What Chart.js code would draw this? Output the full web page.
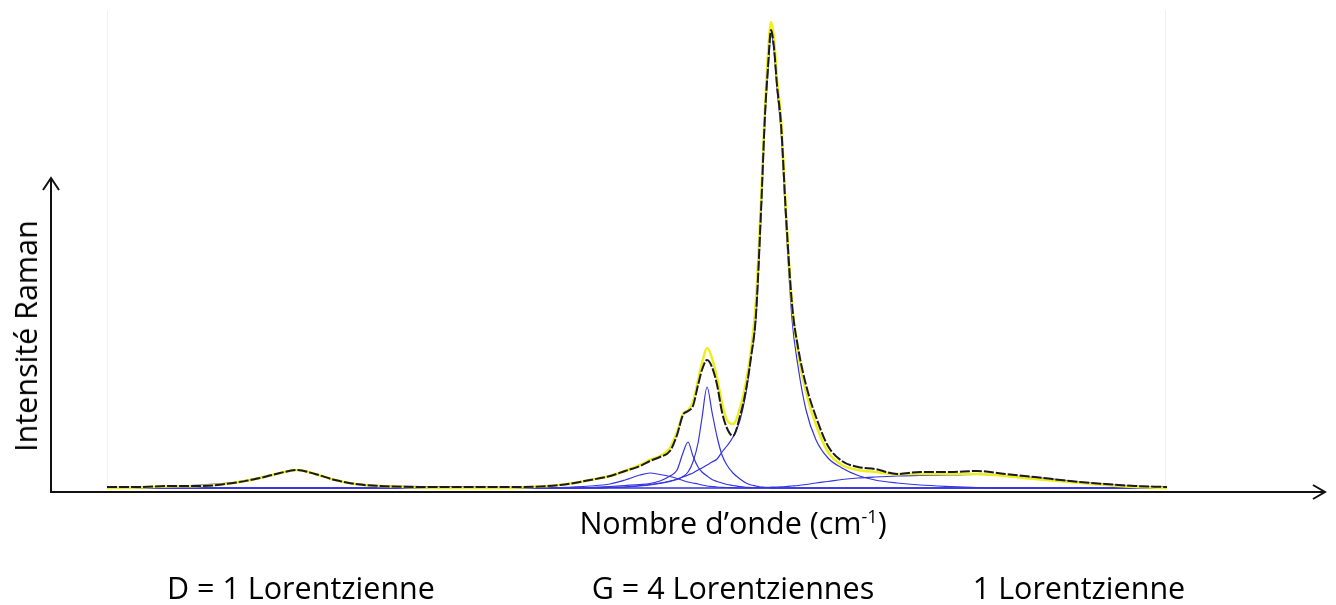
<!DOCTYPE html>
<html>
<head>
<meta charset="utf-8">
<script src="https://cdn.jsdelivr.net/npm/chart.js@4/dist/chart.umd.min.js"></script>
<style>
  html, body { margin: 0; padding: 0; background: #fff; }
  #wrap { position: relative; width: 1336px; height: 605px; overflow: hidden; }
  #chart { position: absolute; left: 0; top: 0; }
  .lbl { position: absolute; white-space: nowrap; font-family: "Open Sans", Lato, sans-serif; font-size: 30.5px; color: #000; transform: translate(-50%, -50%); }
  .lbl sup { font-size: 18px; vertical-align: 11px; line-height: 0; }
  #ylabel { transform: translate(-50%, -50%) rotate(-90deg); }
</style>
</head>
<body>
<div id="wrap">
  <canvas id="chart" width="1336" height="605"></canvas>
  <div class="lbl" id="ylabel" style="left:25px; top:336px;">Intensité Raman</div>
  <div class="lbl" style="left:733px; top:522px;">Nombre d’onde (cm<sup>-1</sup>)</div>
  <div class="lbl" style="left:301px; top:587px;">D = 1 Lorentzienne</div>
  <div class="lbl" style="left:733px; top:587px;">G = 4 Lorentziennes</div>
  <div class="lbl" style="left:1079px; top:587px;">1 Lorentzienne</div>
</div>
<script>
// wavenumber grid (cm-1), denser around the G band
var wavenumbers = [1250.0, 1266.8, 1280.6, 1297.4, 1314.2, 1327.9, 1338.1, 1346.8, 1356.0, 1366.2,
  1376.3, 1389.1, 1409.5, 1434.9, 1460.4, 1480.8, 1496.1, 1506.2, 1513.9, 1521.5,
  1526.6, 1531.7, 1536.8, 1540.4, 1543.4, 1546.0, 1548.5, 1551.1, 1553.1, 1555.7,
  1558.2, 1560.8, 1563.3, 1565.8, 1568.9, 1572.5, 1575.5, 1578.1, 1580.6, 1583.2,
  1585.2, 1586.7, 1588.3, 1589.8, 1591.3, 1593.4, 1595.9, 1599.0, 1602.0, 1606.1,
  1611.2, 1617.3, 1624.4, 1632.6, 1641.2, 1652.5, 1664.2, 1679.4, 1693.2, 1707.5,
  1722.7, 1740.6, 1758.4, 1773.7, 1790.0];

// measured spectrum (black)
var measured = [3, 3, 4, 4, 7, 12, 17, 20, 16, 10,
  6, 4, 3, 3, 3, 5, 10, 14, 19, 24,
  29, 33, 39, 55, 75, 79, 84, 105, 120, 130,
  123, 105, 78, 62, 54, 74, 100, 133, 175, 280,
  375, 422, 460, 442, 405, 365, 275, 185, 143, 105,
  73, 44, 29, 23, 21, 16, 18, 18, 19, 16,
  13, 9, 6, 4, 3];

// sum of the fitted Lorentzians (yellow)
var fitSum = [2, 2.5, 3.5, 4, 7, 12, 17, 20, 16, 10,
  6, 4, 2.5, 2, 2.5, 5, 10, 14, 19, 25,
  30, 34, 42, 58, 76, 80, 88, 110, 127, 142,
  132, 112, 87, 70, 66, 82, 108, 140, 190, 290,
  382, 435, 468, 452, 412, 370, 278, 185, 138, 98,
  65, 38, 25, 20, 18, 16, 16, 16, 16, 14,
  11, 8, 5, 3, 2];

// individual Lorentzian components (blue)
var peakD = [2.5, 3, 3.5, 5, 7.5, 12.5, 17, 20, 16, 10,
  6.5, 4.5, 3.5, 3, 2.5, 2, 2, 2, 2, 2,
  2, 2, 2, 2, 2, 2, 2, 2, 2, 2,
  2, 2, 2, 2, 2, 2, 2, 2, 2, 2,
  2, 2, 2, 2, 2, 2, 2, 2, 2, 2,
  2, 2, 2, 2, 2, 2, 2, 2, 2, 2,
  2, 2, 2, 2, 2];

var peakG1 = [2, 2, 2, 2, 2, 2, 2, 2, 2, 2,
  2, 2, 2, 2, 2, 2.5, 4, 6, 10, 15,
  17, 15.5, 13.5, 11.5, 9.5, 8, 7, 6, 5, 4,
  3.5, 3, 2.7, 2.5, 2.3, 2, 2, 2, 2, 2,
  2, 2, 2, 2, 2, 2, 2, 2, 2, 2,
  2, 2, 2, 2, 2, 2, 2, 2, 2, 2,
  2, 2, 2, 2, 2];

var peakG2 = [2, 2, 2, 2, 2, 2, 2, 2, 2, 2,
  2, 2, 2, 2, 2, 2, 2.5, 3.5, 4.5, 5.5,
  6.5, 9, 14, 20, 37, 48, 34, 23, 18, 14,
  10.5, 8.5, 7, 5.5, 4.5, 3.3, 2.7, 2.4, 2, 2,
  2, 2, 2, 2, 2, 2, 2, 2, 2, 2,
  2, 2, 2, 2, 2, 2, 2, 2, 2, 2,
  2, 2, 2, 2, 2];

var peakG3 = [2, 2, 2, 2, 2, 2, 2, 2, 2, 2,
  2, 2, 2, 2, 2, 2, 2, 2.5, 3, 4,
  5, 6.5, 8.5, 10.5, 13.5, 18, 28, 47, 72, 103,
  78, 53, 35, 25, 17, 11, 7, 5, 4, 3,
  2.5, 2.5, 2, 2, 2, 2, 2, 2, 2, 2,
  2, 2, 2, 2, 2, 2, 2, 2, 2, 2,
  2, 2, 2, 2, 2];

var peakG4 = [2, 2, 2, 2, 2, 2, 2, 2, 2, 2,
  2, 2, 2, 2, 2, 2, 2, 2.5, 3, 4.5,
  5.5, 7, 9, 11, 13, 15, 17, 20, 22, 25,
  28, 31, 38, 44, 53, 70, 97, 133, 172, 275,
  370, 418, 455, 440, 402, 358, 266, 170, 124, 80,
  50, 32, 22, 14.5, 10, 7, 5, 3.5, 2.5, 2,
  2, 2, 2, 2, 2];

var peakRight = [2, 2, 2, 2, 2, 2, 2, 2, 2, 2,
  2, 2, 2, 2, 2, 2, 2, 2, 2, 2,
  2, 2, 2, 2, 2, 2, 2, 2, 2, 2,
  2, 2, 2, 2, 2, 2, 2, 2, 2.5, 2.5,
  2.7, 2.7, 2.8, 2.9, 3, 3.2, 3.5, 4, 4.5, 5.5,
  7, 8.5, 10.5, 12, 13, 14, 14.5, 15, 15.5, 14.5,
  12.5, 9, 6, 4, 3];

function toPoints(values) {
  return values.map(function (v, i) {
    return { x: wavenumbers[i], y: v };
  });
}

function componentSet(values) {
  return {
    data: toPoints(values),
    borderColor: '#3434e0',
    borderWidth: 1.2,
    order: 3
  };
}

// arrows and faint frame, drawn around the plot
var axesPlugin = {
  id: 'arrowAxes',
  beforeDatasetsDraw: function (chart) {
    var ctx = chart.ctx;
    var area = chart.chartArea;
    ctx.save();
    ctx.strokeStyle = '#f0f0f0';
    ctx.lineWidth = 1;
    ctx.beginPath();
    ctx.moveTo(area.left + 0.5, area.top);
    ctx.lineTo(area.left + 0.5, area.bottom);
    ctx.moveTo(area.right - 1.5, area.top);
    ctx.lineTo(area.right - 1.5, area.bottom);
    ctx.stroke();
    ctx.restore();
  },
  afterDraw: function (chart) {
    var ctx = chart.ctx;
    ctx.save();
    ctx.strokeStyle = '#111';
    ctx.lineWidth = 2;
    ctx.beginPath();
    ctx.moveTo(51, 492);
    ctx.lineTo(51, 179);
    ctx.moveTo(43, 190);
    ctx.lineTo(51, 178);
    ctx.lineTo(59, 190);
    ctx.moveTo(50, 492);
    ctx.lineTo(1324, 492);
    ctx.moveTo(1313, 485);
    ctx.lineTo(1325, 492);
    ctx.lineTo(1313, 499);
    ctx.stroke();
    ctx.restore();
  }
};

var ctx = document.getElementById('chart').getContext('2d');
var ramanChart = new Chart(ctx, {
  type: 'line',
  data: {
    datasets: [
      {
        data: toPoints(measured),
        borderColor: '#1a1a1a',
        borderWidth: 2,
        borderDash: [10, 2],
        order: 1
      },
      {
        data: toPoints(fitSum),
        borderColor: '#eeee1c',
        borderWidth: 2.5,
        order: 2
      },
      componentSet(peakD),
      componentSet(peakG1),
      componentSet(peakG2),
      componentSet(peakG3),
      componentSet(peakG4),
      componentSet(peakRight)
    ]
  },
  options: {
    responsive: false,
    animation: false,
    devicePixelRatio: 1,
    layout: { padding: { left: 107, right: 169, top: 10, bottom: 115 } },
    elements: {
      point: { radius: 0 },
      line: { cubicInterpolationMode: 'monotone', fill: false }
    },
    plugins: {
      legend: { display: false },
      tooltip: { enabled: false }
    },
    scales: {
      x: { type: 'linear', min: 1250, max: 1790, display: false },
      y: { min: 0, max: 480, display: false }
    }
  },
  plugins: [axesPlugin]
});
</script>
</body>
</html>
